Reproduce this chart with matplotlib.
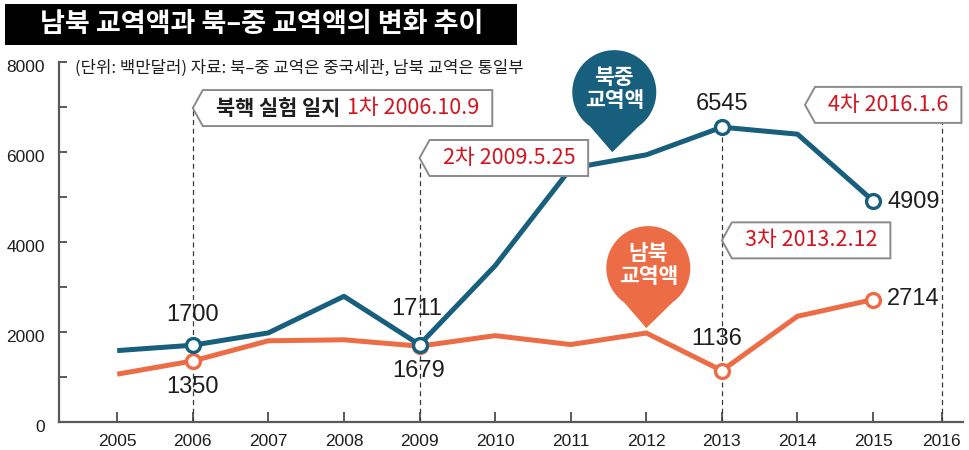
import numpy as np
import matplotlib
matplotlib.use("Agg")
import matplotlib.pyplot as plt
import matplotlib.transforms as mtransforms
from matplotlib import font_manager
from matplotlib.patches import Polygon, Circle, Rectangle
from matplotlib.ticker import MultipleLocator

# --- data (백만달러) ---
years = [2005, 2006, 2007, 2008, 2009, 2010, 2011, 2012, 2013, 2014, 2015]
nk_china = [1580, 1700, 1974, 2787, 1711, 3466, 5629, 5930, 6545, 6390, 4909]
inter_korea = [1056, 1350, 1798, 1820, 1679, 1912, 1714, 1971, 1136, 2343, 2714]
marked_idx = [1, 4, 8, 10]
x_ticks = [2005, 2006, 2007, 2008, 2009, 2010, 2011, 2012, 2013, 2014, 2015, 2016]
y_ticks = [0, 2000, 4000, 6000, 8000]

# nuclear test events: year of dashed line, top of dashed line, box tip (x, y), label
event_years = [2006, 2009, 2013, 2015.91]
event_tops = [6970, 5860, 6545, 6640]
event_tips = [(2006, 6970), (2009, 5860), (2013, 4030), (2014.1, 7040)]
event_labels = ["1차 2006.10.9", "2차 2009.5.25", "3차 2013.2.12", "4차 2016.1.6"]

title = "남북 교역액과 북–중 교역액의 변화 추이"
source = "(단위: 백만달러) 자료: 북–중 교역은 중국세관, 남북 교역은 통일부"

BLUE = "#175f7c"
ORANGE = "#ec6d45"
RED = "#d3141f"
AXIS = "#5a5a5a"
TXT = "#1e1e1e"

names = {f.name for f in font_manager.fontManager.ttflist}
NUM_FONT = "Liberation Sans Narrow" if "Liberation Sans Narrow" in names else "Liberation Sans"
KR = ["Noto Sans CJK KR", "DejaVu Sans"]
plt.rcParams["font.family"] = KR

fig = plt.figure(figsize=(9.7, 4.5), dpi=100)
ax = fig.add_axes([59 / 970, 28.3 / 450, 904 / 970, 360 / 450], zorder=1)
ax.set_xlim(2004.23, 2016.19)
ax.set_ylim(0, 8000)

# lines
ax.plot(years, inter_korea, color=ORANGE, lw=3.6, marker="o", markevery=marked_idx,
        ms=10, mfc="white", mec=ORANGE, mew=2.4, zorder=3, solid_capstyle="butt")
ax.plot(years, nk_china, color=BLUE, lw=3.6, marker="o", markevery=marked_idx,
        ms=10, mfc="white", mec=BLUE, mew=2.4, zorder=4, solid_capstyle="butt")

# dashed event lines
ax.vlines(event_years, 0, event_tops, colors="#3a3a3a", lw=0.9, linestyles=(0, (4, 3)), zorder=2)

# value labels
num_kw = dict(fontfamily=NUM_FONT, fontsize=17, color=TXT, zorder=6)
blue_offsets = [(0, 30, "center"), (-3, 36, "center"), (0, 23, "center"), (14, -1, "left")]
orange_offsets = [(0, -26, "center"), (-1, -25, "center"), (-5, 32, "center"), (14, 1, "left")]
for i, (dx, dy, ha) in zip(marked_idx, blue_offsets):
    ax.annotate(f"{nk_china[i]}", (years[i], nk_china[i]), xytext=(dx, dy),
                textcoords="offset pixels", ha=ha, va="center", **num_kw)
for i, (dx, dy, ha) in zip(marked_idx, orange_offsets):
    ax.annotate(f"{inter_korea[i]}", (years[i], inter_korea[i]), xytext=(dx, dy),
                textcoords="offset pixels", ha=ha, va="center", **num_kw)

# axes styling
for s in ["top", "right"]:
    ax.spines[s].set_visible(False)
for s in ["left", "bottom"]:
    ax.spines[s].set_color(AXIS)
    ax.spines[s].set_linewidth(1.6)
ax.patch.set_alpha(0)
ax.set_xticks([2005, 2006, 2007, 2008, 2009, 2010, 2011, 2012, 2013, 2014, 2015, 2015.91])
ax.set_xticklabels([str(y) for y in x_ticks], fontfamily=NUM_FONT, fontsize=12.5, color=TXT)
ax.set_yticks(y_ticks)
ax.yaxis.set_minor_locator(MultipleLocator(1000))
ax.tick_params(axis="x", direction="in", length=7, width=1.4, color=AXIS, pad=9)
ax.tick_params(axis="y", which="both", direction="in", length=6, width=1.4, color=AXIS,
               labelleft=False)
shift = mtransforms.ScaledTranslation(0, -0.06, fig.dpi_scale_trans)
ylab_trans = mtransforms.blended_transform_factory(ax.transAxes, ax.transData) + shift
for v in y_ticks:
    ax.text(-0.0155, v, str(v), transform=ylab_trans, ha="right", va="center",
            fontfamily=NUM_FONT, fontsize=12.5, color=TXT)

# --- overlay in pixel coordinates for title, boxes, bubbles ---
ov = fig.add_axes([0, 0, 1, 1], zorder=5)
ov.set_xlim(0, 970)
ov.set_ylim(0, 450)
ov.axis("off")
ov.patch.set_alpha(0)

def to_px(x, y):
    return ov.transData.inverted().transform(ax.transData.transform((x, y)))

# title bar
ov.add_patch(Rectangle((5, 450 - 45), 512, 41, color="black", lw=0))
ov.text(262, 450 - 24.5, title, color="white", fontsize=19.5, fontweight="bold",
        ha="center", va="center")
ov.text(75, 450 - 68, source, color=TXT, fontsize=12, ha="left", va="center")

renderer = fig.canvas.get_renderer()

def text_right(t):
    bb = t.get_window_extent(renderer=renderer)
    return ov.transData.inverted().transform((bb.x1, bb.y1))[0]

box_h = 36
for k, ((ex, ey), lab) in enumerate(zip(event_tips, event_labels)):
    tx, ty = to_px(ex, ey)
    x0 = tx + 23
    if k == 0:
        t1 = ov.text(x0, ty, "북핵 실험 일지", color=TXT, fontsize=15, fontweight="bold",
                     ha="left", va="center", zorder=7)
        x0 = text_right(t1) + 7
    t2 = ov.text(x0, ty, lab, color=RED, fontsize=15.5, ha="left", va="center", zorder=7)
    right = text_right(t2) + 13
    pts = [(tx, ty), (tx + 10, ty + box_h / 2), (right, ty + box_h / 2),
           (right, ty - box_h / 2), (tx + 10, ty - box_h / 2)]
    ov.add_patch(Polygon(pts, closed=True, fc="white", ec="#8a8a8a", lw=1.4, zorder=6))

# speech bubbles
bubble_tips = [(2011.55, 5990), (2012.0, 2080)]
bubble_colors = [BLUE, ORANGE]
bubble_texts = ["북중\n교역액", "남북\n교역액"]
r = 42
for (bx, by), col, txt in zip(bubble_tips, bubble_colors, bubble_texts):
    px, py = to_px(bx, by)
    cx, cy = px + 2, py + 60
    a1, a2 = np.deg2rad(235), np.deg2rad(305)
    tri = [(px, py), (cx + r * np.cos(a1), cy + r * np.sin(a1)),
           (cx + r * np.cos(a2), cy + r * np.sin(a2))]
    ov.add_patch(Circle((cx, cy), r, fc=col, ec="none", zorder=6))
    ov.add_patch(Polygon(tri, closed=True, fc=col, ec="none", zorder=6))
    ov.text(cx, cy + 3, txt, color="white", fontsize=15.5, fontweight="bold",
            ha="center", va="center", linespacing=1.1, zorder=7)

fig.savefig("out.png", dpi=100)
